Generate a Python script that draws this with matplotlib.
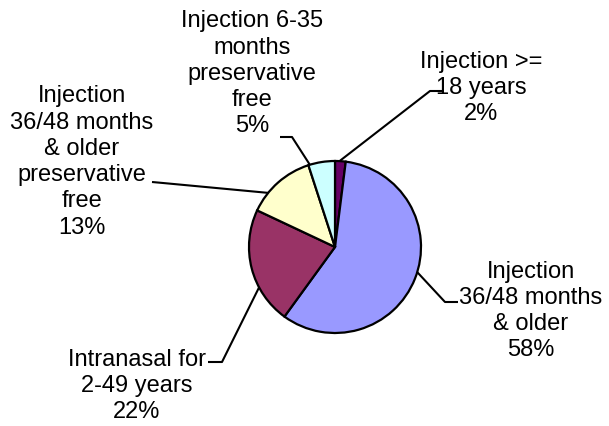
import numpy as np
import matplotlib.pyplot as plt

# Vaccine doses by product type
labels = ['Injection >=\n18 years',
          'Injection\n36/48 months\n& older',
          'Intranasal for\n2-49 years',
          'Injection\n36/48 months\n& older\npreservative\nfree',
          'Injection 6-35\nmonths\npreservative\nfree']
shares = [2, 58, 22, 13, 5]
colors = ['#660066', '#9999FF', '#993366', '#FFFFCC', '#CCFFFF']

W, H = 609, 427
CX, CY, R = 335, H - 248, 86

# label layout (pixel coords, y from top): text centre, leader elbow, leader end,
# and angle (clockwise from 12 o'clock) where the leader touches the pie
text_pos = [(481, 88), (531, 311), (137, 386), (82, 162), (252, 74)]
elbows = [(430, 92), (445, 303), (222, 363), (163, 184), (292, 138)]
ends = [(443, 92), (458, 303), (208, 363), (152, 183), (280, 138)]
touch_deg = [3, 107, 242, 309, 343]

plt.rcParams['font.family'] = ['Liberation Sans', 'DejaVu Sans']

fig = plt.figure(figsize=(W / 100, H / 100), dpi=100)
ax = fig.add_axes([0, 0, 1, 1])

ax.pie(shares, colors=colors, startangle=90, counterclock=False,
       center=(CX, CY), radius=R,
       wedgeprops=dict(edgecolor='black', linewidth=1.6))

for i, lab in enumerate(labels):
    ang = np.deg2rad(touch_deg[i])
    x0 = CX + R * np.sin(ang)
    y0 = CY + R * np.cos(ang)
    ex, ey = elbows[i]
    fx, fy = ends[i]
    ax.plot([x0, ex, fx], [y0, H - ey, H - fy], color='black', lw=1.5,
            solid_capstyle='butt', zorder=5)
    tx, ty = text_pos[i]
    ax.text(tx, H - ty, '%s\n%d%%' % (lab, shares[i]), ha='center', va='center',
            fontsize=17, linespacing=1.25, color='black')

ax.set_xlim(0, W)
ax.set_ylim(0, H)
ax.set_aspect('equal')
ax.axis('off')

fig.savefig('out.png', dpi=100)
